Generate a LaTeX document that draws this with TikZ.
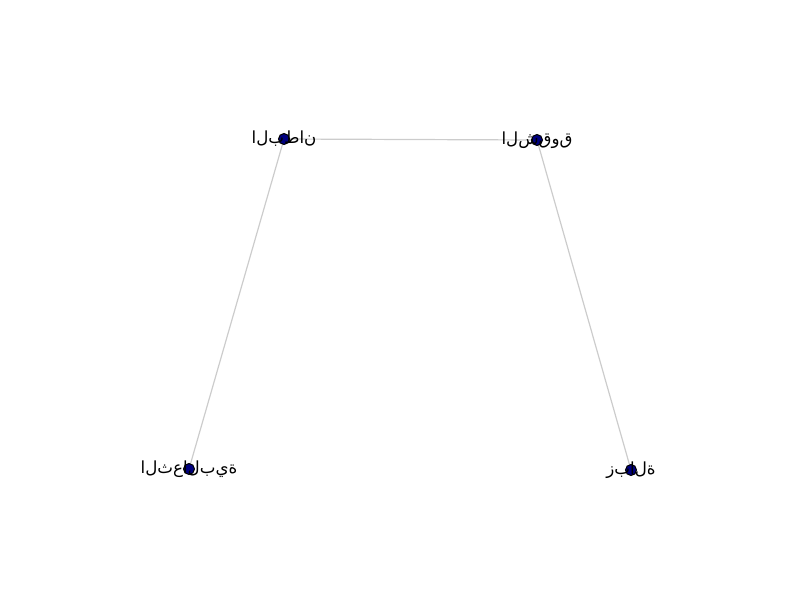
\documentclass[tikz,border=0pt]{standalone}
\usepackage{fontspec}
\newfontfamily\arabicfont{DejaVu Sans}
\def\isoloop#1{\ifx#1\relax\else\hbox{#1}\expandafter\isoloop\fi}
\newcommand\isotext[1]{\isoloop#1\relax}
\begin{document}
\begin{tikzpicture}[x=1pt,y=-1pt,
  dot/.style={circle,draw=black,fill=navy,line width=1.0pt,minimum size=11pt,inner sep=0pt},
  lbl/.style={font=\arabicfont\fontsize{16.67}{19}\selectfont,inner sep=0pt,text=black},
  edge/.style={draw=edgegray,line width=1.2pt}]
\definecolor{navy}{RGB}{0,0,128}
\definecolor{edgegray}{RGB}{204,204,204}
\useasboundingbox (0,0) rectangle (800,600);
\coordinate (a) at (284,139);
\coordinate (b) at (537,140);
\coordinate (c) at (189,469);
\coordinate (d) at (631,470);
\draw[edge] (a) -- (b);
\draw[edge] (a) -- (c);
\draw[edge] (b) -- (d);
\node[dot] (na) at (a) {};
\node[dot] (nb) at (b) {};
\node[dot] (nc) at (c) {};
\node[dot] (nd) at (d) {};
\node[lbl] (la) at (a) {\isotext{البطان}};
\node[lbl] (lb) at (b) {\isotext{الشقوق}};
\node[lbl] (lc) at (c) {\isotext{الثعالبية}};
\node[lbl] (ld) at (d) {\isotext{زبالة}};
\end{tikzpicture}
\end{document}
